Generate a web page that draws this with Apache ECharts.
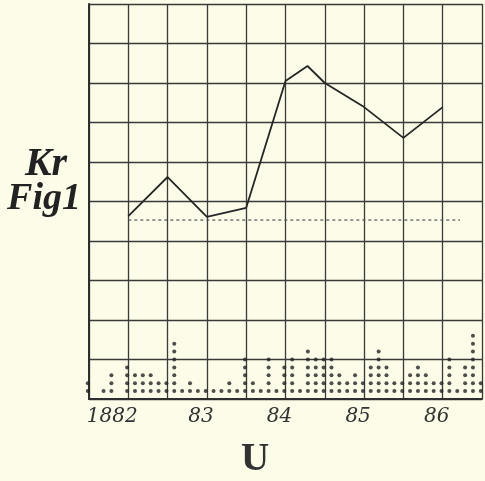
<!DOCTYPE html>
<html><head><meta charset="utf-8">
<script src="https://cdn.jsdelivr.net/npm/echarts@6/dist/echarts.min.js"></script>
<style>html,body{margin:0;padding:0;background:#fdfce8}#chart{width:485px;height:481px}</style>
</head><body><div id="chart"></div>
<script>
// Main curve: half-year readings (x in years, y in grid units)
const years = [1882, 1882.5, 1883, 1883.5, 1884, 1884.28, 1884.5, 1885, 1885.5, 1886];
const values = [4.63, 5.62, 4.61, 4.84, 8.05, 8.43, 8.0, 7.39, 6.61, 7.39];
// Dashed reference level
const refLevel = 4.53;
const refSpan = [1882, 1886.22];
// Year tick labels
const tickYears = [1882, 1883, 1884, 1885, 1886];
const tickTexts = ['1882', '83', '84', '85', '86'];
// Dot-count histogram: number of dots in each tenth-of-a-year column
const dotCounts = [2,0,1,3,0,4,3,3,3,2,2,7,1,2,1,1,1,1,2,1,5,2,1,5,1,4,5,1,6,5,5,5,3,2,3,2,4,6,4,2,2,3,4,3,2,2,5,1,4,8,2];
const dotStart = 1881.485, dotStep = 0.1, dotUnit = 0.2;

const ink = '#2e2e2e';
const labelFont = {fontFamily: 'DejaVu Serif', fontStyle: 'italic', fontSize: 20, color: '#333'};

const dots = [];
dotCounts.forEach((c, i) => {
  for (let k = 1; k <= c; k++) dots.push([dotStart + i * dotStep, k * dotUnit]);
});

const chart = echarts.init(document.getElementById('chart'));
chart.setOption({
  backgroundColor: '#fdfce8',
  animation: false,
  grid: {left: 89, right: 2, top: 4, bottom: 82, show: false},
  xAxis: {
    type: 'value', min: 1881.5, max: 1886.5, interval: 0.5,
    axisLine: {show: true, lineStyle: {color: ink, width: 2.2}},
    axisTick: {show: false},
    splitLine: {show: true, lineStyle: {color: '#3a3a3a', width: 1.3}},
    axisLabel: {
      margin: 8,
      formatter: v => {
        const r = Math.round(v * 2) / 2;
        const idx = tickYears.indexOf(r);
        if (idx < 0) return '';
        return (idx === 0 ? '{w|' : '{n|') + tickTexts[idx] + '}';
      },
      rich: {
        w: Object.assign({padding: [0, 32, 0, 0]}, labelFont),
        n: Object.assign({padding: [0, 12, 0, 0]}, labelFont)
      }
    }
  },
  yAxis: {
    type: 'value', min: 0, max: 10, interval: 1,
    axisLine: {show: true, lineStyle: {color: ink, width: 2}},
    axisTick: {show: false},
    axisLabel: {show: false},
    splitLine: {show: true, lineStyle: {color: '#3a3a3a', width: 1.3}}
  },
  series: [
    {
      type: 'line', data: years.map((y, i) => [y, values[i]]),
      symbol: 'none', lineStyle: {color: '#262626', width: 1.8}, z: 5
    },
    {
      type: 'line', data: [[refSpan[0], refLevel], [refSpan[1], refLevel]],
      symbol: 'none', lineStyle: {color: '#555', width: 1.2, type: [3, 3]}, z: 4
    },
    {
      type: 'scatter', data: dots, symbol: 'circle', symbolSize: 4, clip: false,
      itemStyle: {color: '#222'}, z: 6
    }
  ],
  graphic: [
    {type: 'text', x: 46, y: 165, style: {text: 'Kr', font: 'italic bold 40px "Liberation Serif"', fill: '#222', align: 'center', verticalAlign: 'middle', textAlign: 'center', textVerticalAlign: 'middle'}},
    {type: 'text', x: 44, y: 199, style: {text: 'Fig1', font: 'italic bold 38px "Liberation Serif"', fill: '#222', align: 'center', verticalAlign: 'middle', textAlign: 'center', textVerticalAlign: 'middle'}},
    {type: 'text', x: 255, y: 460, style: {text: 'U', font: 'bold 39px "Liberation Serif"', fill: '#333', align: 'center', verticalAlign: 'middle', textAlign: 'center', textVerticalAlign: 'middle'}}
  ]
});
</script></body></html>
